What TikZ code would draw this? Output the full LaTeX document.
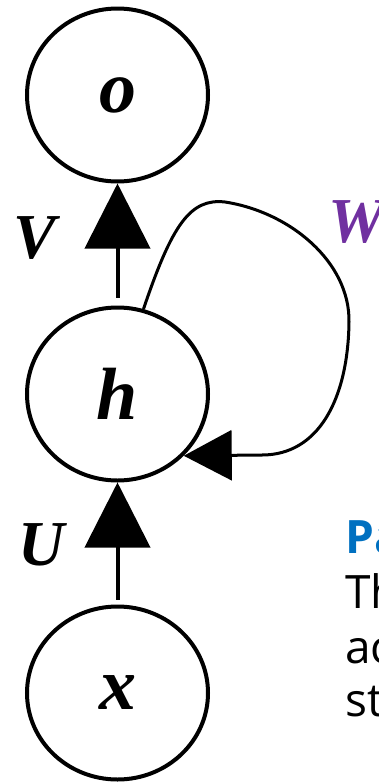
\documentclass[tikz,border=0pt]{standalone}
\usepackage{fontspec}
\setmainfont{Liberation Serif}
\newfontfamily\sidefont{Open Sans}
\usetikzlibrary{arrows.meta,shapes.geometric}
\definecolor{wpurple}{HTML}{7030A0}
\definecolor{pblue}{HTML}{0070C0}
\tikzset{
  unit/.style={ellipse, draw, line width=4pt, minimum width=181pt, minimum height=173pt,
    inner sep=0pt, font=\fontsize{74}{74}\selectfont\bfseries\itshape},
  conn/.style={line width=4pt, -{Triangle[length=65pt,width=65pt]}},
  rec/.style={line width=3pt, -{Triangle[length=48pt,width=50pt]}},
  wlabel/.style={font=\fontsize{64}{64}\selectfont\bfseries\itshape, inner sep=0pt},
  side/.style={font=\fontsize{46}{46}\selectfont\sidefont, anchor=base west, inner sep=0pt}
}
\begin{document}
\begin{tikzpicture}[x=1pt,y=-1pt]
\useasboundingbox (0,0) rectangle (378,782);
\node[unit] (o) at (117.5,95) {o};
\node[unit] (h) at (117.5,394) {h};
\node[unit] (x) at (117.5,693) {x};
\draw[conn, shorten <=8pt] (h.north) -- (o.south);
\draw[conn, shorten <=5pt] (x.north) -- (h.south);
\node[wlabel] (V) at (35,238) {V};
\node[wlabel] (U) at (42,545) {U};
\node[wlabel, text=wpurple, anchor=west] (W) at (328,222) {W};
\draw[rec] (h.73) .. controls (172,225) and (190,198) .. (225,202)
  .. controls (290,212) and (350,262) .. (349,322)
  .. controls (348,400) and (318,455) .. (262,455)
  -- (h.-43);
\node[side, text=pblue, font=\fontsize{46}{46}\selectfont\sidefont\bfseries] (p1) at (345,553) {Pa};
\node[side] (p2) at (345,608) {Th};
\node[side] (p3) at (345,663) {ac};
\node[side] (p4) at (345,716) {st};
\end{tikzpicture}
\end{document}
